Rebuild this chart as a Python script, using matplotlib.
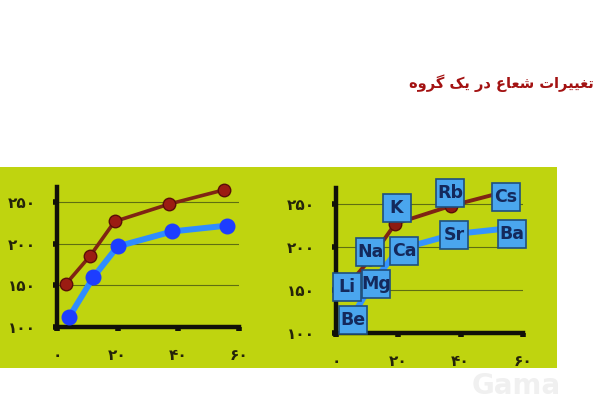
import matplotlib
matplotlib.use("Agg")
import matplotlib.pyplot as plt
from matplotlib.patches import Rectangle
from matplotlib.transforms import offset_copy

# atomic number vs atomic radius (pm)
group1_z = [3, 11, 19, 37, 55]
group1_r = [152, 186, 227, 248, 265]
group1_sym = ["Li", "Na", "K", "Rb", "Cs"]

group2_z = [4, 12, 20, 38, 56]
group2_r = [112, 160, 197, 215, 222]
group2_sym = ["Be", "Mg", "Ca", "Sr", "Ba"]

x_ticks = [0, 20, 40, 60]
y_ticks = [100, 150, 200, 250]

title_fa = "تغییرات شعاع در یک گروه"

# label box offsets (points) on the right chart
label_offsets = {
    "Li": (1, 1), "Na": (0, 5), "K": (1, 11), "Rb": (-1, 9), "Cs": (-1, -4),
    "Be": (3, 2), "Mg": (2, -2), "Ca": (4, -1), "Sr": (0, -1), "Ba": (1, -4),
}

fa_digits = str.maketrans("0123456789", "۰۱۲۳۴۵۶۷۸۹")

# tiny persian shaper (matplotlib has no arabic shaping)
forms = {
    "ت": (0xFE95, 0xFE96, 0xFE97, 0xFE98),
    "غ": (0xFECD, 0xFECE, 0xFECF, 0xFED0),
    "ی": (0xFBFC, 0xFBFD, 0xFBFE, 0xFBFF),
    "ش": (0xFEB5, 0xFEB6, 0xFEB7, 0xFEB8),
    "ع": (0xFEC9, 0xFECA, 0xFECB, 0xFECC),
    "ک": (0xFB8E, 0xFB8F, 0xFB90, 0xFB91),
    "گ": (0xFB92, 0xFB93, 0xFB94, 0xFB95),
    "ه": (0xFEE9, 0xFEEA, 0xFEEB, 0xFEEC),
    "ر": (0xFEAD, 0xFEAE),
    "ا": (0xFE8D, 0xFE8E),
    "د": (0xFEA9, 0xFEAA),
    "و": (0xFEED, 0xFEEE),
}


def shape(text):
    out = []
    for i, ch in enumerate(text):
        if ch not in forms:
            out.append(ch)
            continue
        prev = text[i - 1] if i > 0 else " "
        nxt = text[i + 1] if i + 1 < len(text) else " "
        join_prev = prev in forms and len(forms[prev]) == 4
        join_next = len(forms[ch]) == 4 and nxt in forms
        f = forms[ch]
        if join_prev and join_next:
            out.append(chr(f[3]))
        elif join_prev:
            out.append(chr(f[1]))
        elif join_next:
            out.append(chr(f[2]))
        else:
            out.append(chr(f[0]))
    return "".join(reversed(out))


fig = plt.figure(figsize=(6, 4), dpi=100)
fig.patch.set_facecolor("white")

# yellow-green slide band
fig.patches.append(Rectangle((0, 0.08), 0.928, 0.5025, transform=fig.transFigure,
                             facecolor="#bfd40f", edgecolor="none", zorder=-5))

fig.text(0.99, 0.793, shape(title_fa), ha="right", va="center", fontsize=10.5,
         fontweight="bold", color="#a31212", family=["DejaVu Sans"])


def setup_axes(ax, top):
    ax.set_facecolor("none")
    ax.set_xlim(0, 60)
    ax.set_ylim(100, top)
    for s in ["top", "right"]:
        ax.spines[s].set_visible(False)
    for s in ["left", "bottom"]:
        ax.spines[s].set_linewidth(3.2)
        ax.spines[s].set_color("#111108")
    ax.set_xticks(x_ticks)
    ax.set_xticklabels([str(v).translate(fa_digits) for v in x_ticks])
    ax.set_yticks(y_ticks)
    ax.set_yticklabels([str(v).translate(fa_digits) for v in y_ticks])
    ax.tick_params(axis="both", length=3, width=4, color="#111108",
                   labelsize=11, labelcolor="#24240a")
    ax.tick_params(axis="y", pad=12)
    ax.tick_params(axis="x", pad=12)
    for lbl in ax.get_xticklabels() + ax.get_yticklabels():
        lbl.set_fontweight("bold")
    for y in y_ticks[1:]:
        ax.axhline(y, color="#5f6e12", lw=0.8, zorder=1)


# left chart
ax1 = fig.add_axes([57 / 600, 73 / 400, 182 / 600, 140 / 400])
setup_axes(ax1, 268.5)
ax1.plot(group1_z, group1_r, color="#7f2414", lw=2.6, marker="o", ms=9,
         mfc="#9b1c12", mec="#5a0e08", mew=1, zorder=3, clip_on=False)
ax1.plot(group2_z, group2_r, color="#2f8cff", lw=4.3, marker="o", ms=10.5,
         mfc="#1d3dff", mec="#1d3dff", zorder=3, clip_on=False)

# right chart
ax2 = fig.add_axes([336 / 600, 67 / 400, 187 / 600, 145 / 400])
setup_axes(ax2, 268.6)
ax2.plot(group1_z, group1_r, color="#7f2414", lw=2.8, marker="o", ms=9,
         mfc="#8e1c12", mec="#5a0e08", mew=1, zorder=3, clip_on=False)
ax2.plot(group2_z, group2_r, color="#3594ff", lw=4.3, zorder=3, clip_on=False)

for zs, rs, syms in [(group1_z, group1_r, group1_sym), (group2_z, group2_r, group2_sym)]:
    for z, r, sym in zip(zs, rs, syms):
        dx, dy = label_offsets[sym]
        tr = offset_copy(ax2.transData, fig=fig, x=dx, y=dy, units="points")
        ax2.plot([z], [r], marker="s", ms=20, mfc="#4aa6ee", mec="#1f4f7e",
                 mew=1.2, transform=tr, zorder=5, clip_on=False)
        ax2.text(z, r, sym, transform=tr, ha="center", va="center", fontsize=12.5,
                 fontweight="bold", color="#14295c", zorder=6)

# faint watermark
fig.text(0.86, 0.035, "Gama", ha="center", va="center", fontsize=20,
         fontweight="bold", color="#f0f0f0", zorder=10)

fig.savefig("out.png", dpi=100, facecolor="white")
